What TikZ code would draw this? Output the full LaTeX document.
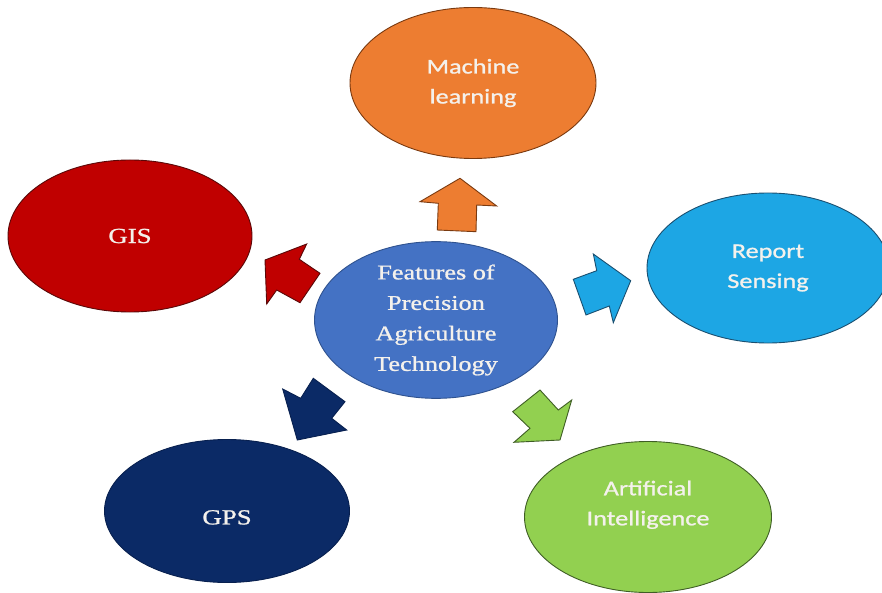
\documentclass[tikz,border=0pt]{standalone}
\usepackage{fontspec}
\usetikzlibrary{shapes.geometric}
\newfontfamily\serifwide[FakeStretch=1.25, FakeBold=1]{Liberation Serif}
\newfontfamily\sanswide[FakeStretch=1.25, FakeBold=1]{Carlito}

\definecolor{gisred}{HTML}{C00000}
\definecolor{gisedge}{HTML}{5A0808}
\definecolor{mlorange}{HTML}{ED7D31}
\definecolor{mledge}{HTML}{7A3A10}
\definecolor{rsblue}{HTML}{1DA6E4}
\definecolor{rsedge}{HTML}{1A4F70}
\definecolor{gpsnavy}{HTML}{0B2A66}
\definecolor{gpsedge}{HTML}{08204F}
\definecolor{aigreen}{HTML}{92D050}
\definecolor{aiedge}{HTML}{3F5E25}
\definecolor{coreblue}{HTML}{4472C4}
\definecolor{coreedge}{HTML}{2F528F}
\definecolor{labeltext}{HTML}{F4F1EC}

\tikzset{
  bubble/.style={ellipse, draw, line width=0.9pt, inner sep=0pt, align=center,
    text=labeltext},
  serifbubble/.style={bubble, font=\serifwide\fontsize{21.5}{30}\selectfont},
  sansbubble/.style={bubble, font=\sanswide\fontsize{21}{30}\selectfont},
  blockarrow/.style={line width=0.9pt, line join=miter}
}

\begin{document}
\begin{tikzpicture}[x=1pt, y=-1pt]
  \useasboundingbox (0,0) rectangle (882,593);
  \clip (0,0) rectangle (882,593);

  % central topic
  \node[serifbubble, fill=coreblue, draw=coreedge, minimum width=243pt, minimum height=154pt,
        font=\serifwide\fontsize{21}{30.5}\selectfont]
    (core) at (436,320) {Features of\\Precision\\Agriculture\\Technology};

  % surrounding features (struts nudge the labels that sit off-centre)
  \node[sansbubble, fill=mlorange, draw=mledge, minimum width=246pt, minimum height=151pt]
    (ml) at (473,83) {Machine\\learning};
  \node[serifbubble, fill=gisred, draw=gisedge, minimum width=244pt, minimum height=152pt]
    (gis) at (130,236) {GIS};
  \node[sansbubble, fill=rsblue, draw=rsedge, minimum width=242pt, minimum height=150pt]
    (rs) at (768,268) {Report\\Sensing};
  \node[serifbubble, fill=gpsnavy, draw=gpsedge, minimum width=245pt, minimum height=143pt]
    (gps) at (227,511) {\rule{0pt}{27pt}GPS};
  \node[sansbubble, fill=aigreen, draw=aiedge, minimum width=247pt, minimum height=151pt]
    (ai) at (648,517) {Artificial\\Intelligence\rule[-28pt]{0pt}{28pt}};

  % block arrows pointing from the centre to each feature
  \filldraw[blockarrow, fill=mlorange, draw=mledge]
    (460,178.3) -- (496.7,206) -- (476.7,205) -- (476,231.7) -- (437.3,230)
    -- (438.3,203.3) -- (420,201.7) -- cycle;
  \filldraw[blockarrow, fill=gisred, draw=gisedge]
    (265,260) -- (306.7,244) -- (299.3,259.3) -- (320,273.3) -- (300,302.7)
    -- (276.7,290) -- (266.7,304) -- cycle;
  \filldraw[blockarrow, fill=rsblue, draw=rsedge]
    (593.3,254) -- (630.7,280.7) -- (613.3,322.7) -- (609.3,306) -- (586,315)
    -- (573.3,279.3) -- (596.7,270.7) -- cycle;
  \filldraw[blockarrow, fill=gpsnavy, draw=gpsedge]
    (282.7,389) -- (300.7,398.3) -- (313.3,378.3) -- (345,401.7) -- (331.7,418.3)
    -- (346.7,430) -- (297.3,440) -- cycle;
  \filldraw[blockarrow, fill=aigreen, draw=aiedge]
    (540,390) -- (558.3,410) -- (571.7,400) -- (560,440) -- (514,442.3)
    -- (530,428.3) -- (512.7,411.7) -- cycle;
\end{tikzpicture}
\end{document}
